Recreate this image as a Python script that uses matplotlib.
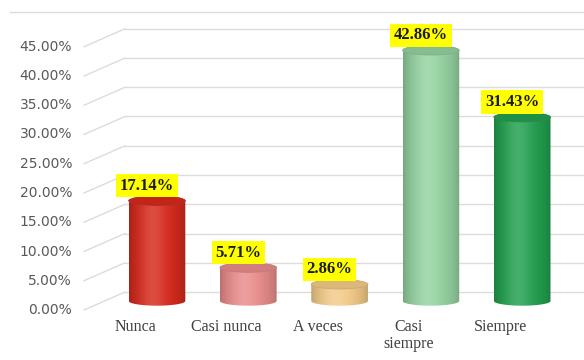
"""Survey frequency chart drawn as shaded cylinders in front of a light grid wall."""

import matplotlib
import numpy as np

matplotlib.use("Agg")
import matplotlib.pyplot as plt
from matplotlib.colors import to_rgb
from matplotlib.patches import Ellipse, PathPatch
from matplotlib.path import Path


CATEGORIES = ["Nunca", "Casi nunca", "A veces", "Casi\nsiempre", "Siempre"]
PERCENTS = [17.14, 5.71, 2.86, 42.86, 31.43]
BAR_COLORS = ["#d62a1c", "#ea8c8c", "#f3cb88", "#94d2a0", "#22a04f"]
Y_TICKS = [0, 5, 10, 15, 20, 25, 30, 35, 40, 45]

# canvas geometry: pixels per unit on each axis and where category 0 / 0 % sits
PX_PER_CAT = 91.3
PX_PER_PCT = 5.85
ORIGIN_PX = (157, 59)
WIDTH_PX, HEIGHT_PX = 584, 360

HALF_WIDTH = 0.31
CAP = 0.8
WALL_SHIFT = 9 / PX_PER_PCT
GRID = "#dcdcdc"


def shade_strip(color: str, n: int = 120) -> np.ndarray:
    base = np.array(to_rgb(color))
    t = np.linspace(0, 1, n)
    body = 0.78 + 0.22 * np.sin(np.pi * t) ** 0.6
    gloss = 0.16 * np.exp(-((t - 0.42) / 0.22) ** 2)
    rgb = base[None, :] * body[:, None]
    rgb = rgb + (1 - rgb) * gloss[:, None]
    return np.clip(rgb, 0, 1)[None, :, :]


def body_path(xc: float, top: float) -> Path:
    low = np.linspace(np.pi, 2 * np.pi, 40)
    high = np.linspace(2 * np.pi, np.pi, 40)
    xs = np.concatenate([xc + HALF_WIDTH * np.cos(low), xc + HALF_WIDTH * np.cos(high)])
    ys = np.concatenate([CAP * np.sin(low), top + CAP * np.sin(high)])
    verts = np.column_stack([xs, ys])
    verts = np.vstack([verts, verts[:1]])
    codes = [Path.MOVETO] + [Path.LINETO] * (len(verts) - 2) + [Path.CLOSEPOLY]
    return Path(verts, codes)


def main() -> None:
    fig = plt.figure(figsize=(WIDTH_PX / 100, HEIGHT_PX / 100), dpi=100)
    ax = fig.add_axes([0, 0, 1, 1])
    x_min = -ORIGIN_PX[0] / PX_PER_CAT
    x_max = (WIDTH_PX - ORIGIN_PX[0]) / PX_PER_CAT
    y_min = -ORIGIN_PX[1] / PX_PER_PCT
    y_max = (HEIGHT_PX - ORIGIN_PX[1]) / PX_PER_PCT

    wall_x = -0.35
    side_x = -0.80
    for tick in Y_TICKS:
        ax.plot([side_x, wall_x], [tick - WALL_SHIFT, tick + WALL_SHIFT], color=GRID, lw=1, zorder=1)
        ax.plot([wall_x, x_max], [tick + WALL_SHIFT, tick + WALL_SHIFT], color=GRID, lw=1, zorder=1)
        ax.annotate(
            f"{tick:.2f}%", xy=(-0.93, tick), xytext=(0, -9), textcoords="offset pixels",
            ha="right", va="center", fontsize=10, color="#595959", family="DejaVu Sans",
        )
    fig.add_artist(plt.Line2D([10 / WIDTH_PX, 1], [1 - 12 / HEIGHT_PX] * 2, color=GRID, lw=1))

    for i, (label, value, color) in enumerate(zip(CATEGORIES, PERCENTS, BAR_COLORS)):
        patch = PathPatch(body_path(i, value), facecolor="none", edgecolor="none", zorder=3)
        ax.add_patch(patch)
        image = ax.imshow(
            shade_strip(color), extent=[i - HALF_WIDTH, i + HALF_WIDTH, -CAP, value],
            aspect="auto", interpolation="bicubic", zorder=3,
        )
        image.set_clip_path(patch)
        cap_color = np.array(to_rgb(color)) * 0.9
        ax.add_patch(Ellipse(
            (i, value), 2 * HALF_WIDTH, 2 * CAP, facecolor=cap_color,
            edgecolor=np.array(to_rgb(color)) * 0.82, lw=0.6, zorder=4,
        ))
        ax.annotate(
            f"{value:.2f}%", xy=(i, value), xytext=(-10, 15), textcoords="offset pixels",
            ha="center", va="center", fontsize=12, fontweight="bold", family="Liberation Serif",
            color="#1a1a1a", zorder=5,
            bbox=dict(boxstyle="square,pad=0.22", facecolor="#ffff00", edgecolor="none"),
        )
        ax.annotate(
            label, xy=(i, 0), xytext=(-22, -18), textcoords="offset pixels",
            ha="center", va="top", fontsize=11.5, family="Liberation Serif", color="#404040",
            linespacing=1.05,
        )

    ax.set_xlim(x_min, x_max)
    ax.set_ylim(y_min, y_max)
    ax.axis("off")
    fig.savefig("out.png", dpi=100, facecolor="white")
    plt.close(fig)


if __name__ == "__main__":
    main()
